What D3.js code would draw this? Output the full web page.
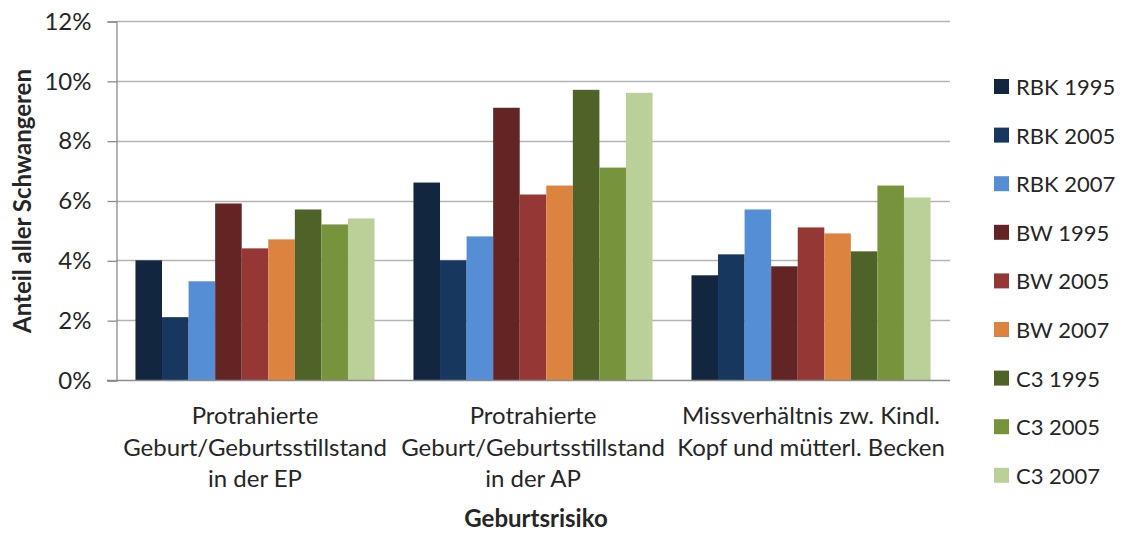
<!DOCTYPE html>
<meta charset="utf-8">
<script src="https://d3js.org/d3.v7.min.js"></script>
<style>
  body { margin: 0; background: #fff; }
  text { font-family: Lato, "Open Sans", sans-serif; fill: #262626; }
</style>
<div id="chart"></div>
<script>

// data
var categories = [
  ["Protrahierte", "Geburt/Geburtsstillstand", "in der EP"],
  ["Protrahierte", "Geburt/Geburtsstillstand", "in der AP"],
  ["Missverhältnis zw. Kindl.", "Kopf und mütterl. Becken"]
];
var series = ["RBK 1995", "RBK 2005", "RBK 2007", "BW 1995", "BW 2005", "BW 2007", "C3 1995", "C3 2005", "C3 2007"];
var colors = ["#13263f", "#17375e", "#558ed5", "#632523", "#953735", "#dd8340", "#4f6228", "#77933c", "#bbcf98"];
var values = [
  [4.0, 2.1, 3.3, 5.9, 4.4, 4.7, 5.7, 5.2, 5.4],
  [6.6, 4.0, 4.8, 9.1, 6.2, 6.5, 9.7, 7.1, 9.6],
  [3.5, 4.2, 5.7, 3.8, 5.1, 4.9, 4.3, 6.5, 6.1]
];
var yTicks = [0, 2, 4, 6, 8, 10, 12];

// dimensions of the plot area
var W = 1124, H = 534;
var plotLeft = 116, plotRight = 950, plotTop = 21, plotBottom = 380;

var svg = d3.select("#chart").append("svg")
  .attr("width", W).attr("height", H);

var x0 = d3.scaleBand()
  .domain(d3.range(categories.length))
  .range([plotLeft, plotRight])
  .paddingInner(0.14)
  .paddingOuter(0.07);

var x1 = d3.scaleBand()
  .domain(series)
  .range([0, x0.bandwidth()]);

var y = d3.scaleLinear().domain([0, 12]).range([plotBottom, plotTop]);

// gridlines
svg.append("g")
  .selectAll("line")
  .data(yTicks.filter(function(d) { return d > 0; }))
  .enter().append("line")
    .attr("x1", plotLeft).attr("x2", plotRight)
    .attr("y1", function(d) { return Math.round(y(d)) + 0.5; })
    .attr("y2", function(d) { return Math.round(y(d)) + 0.5; })
    .attr("stroke", "#b3b3b3").attr("stroke-width", 1.3);

// bars
svg.append("g")
  .selectAll("g")
  .data(values)
  .enter().append("g")
    .attr("transform", function(d, i) { return "translate(" + x0(i) + ",0)"; })
  .selectAll("rect")
  .data(function(d) { return d.map(function(v, j) { return {key: series[j], value: v, c: colors[j]}; }); })
  .enter().append("rect")
    .attr("x", function(d) { return x1(d.key); })
    .attr("y", function(d) { return y(d.value); })
    .attr("width", x1.bandwidth())
    .attr("height", function(d) { return plotBottom - y(d.value); })
    .attr("fill", function(d) { return d.c; });

// y axis
var yAxis = d3.axisLeft(y)
  .tickValues(yTicks)
  .tickSize(9)
  .tickPadding(16)
  .tickFormat(function(d) { return d + "%"; });

var gy = svg.append("g")
  .attr("transform", "translate(" + (plotLeft + 0.5) + ",0.5)")
  .call(yAxis);
gy.select(".domain").attr("stroke", "#8c8c8c").attr("stroke-width", 1.3);
gy.selectAll(".tick line").attr("stroke", "#8c8c8c").attr("stroke-width", 1.3);
gy.selectAll(".tick text")
  .style("font-size", "24px")
  .style("font-family", "Lato, sans-serif")
  .attr("fill", "#262626");

// x axis base line
svg.append("line")
  .attr("x1", plotLeft - 9).attr("x2", plotRight)
  .attr("y1", plotBottom + 0.5).attr("y2", plotBottom + 0.5)
  .attr("stroke", "#8c8c8c").attr("stroke-width", 1.3);

// category labels
var catG = svg.append("g")
  .selectAll("text")
  .data(categories)
  .enter().append("text")
    .attr("text-anchor", "middle")
    .style("font-size", "24px");
catG.each(function(lines, i) {
  var t = d3.select(this);
  lines.forEach(function(l, k) {
    t.append("tspan")
      .attr("x", x0(i) + x0.bandwidth() / 2)
      .attr("y", 424 + k * 31.7)
      .text(l);
  });
});

// axis titles
svg.append("text")
  .attr("x", 536).attr("y", 527)
  .attr("text-anchor", "middle")
  .style("font-size", "24px").style("font-weight", "bold")
  .text("Geburtsrisiko");

svg.append("text")
  .attr("transform", "translate(31,201) rotate(-90)")
  .attr("text-anchor", "middle")
  .style("font-size", "24px").style("font-weight", "bold")
  .text("Anteil aller Schwangeren");

// legend
var legend = svg.append("g")
  .selectAll("g")
  .data(series)
  .enter().append("g")
    .attr("transform", function(d, i) { return "translate(994," + (79 + i * 48.6) + ")"; });
legend.append("rect")
  .attr("width", 15).attr("height", 15)
  .attr("fill", function(d, i) { return colors[i]; });
legend.append("text")
  .attr("x", 22).attr("y", 16)
  .style("font-size", "22px")
  .text(function(d) { return d; });

</script>
